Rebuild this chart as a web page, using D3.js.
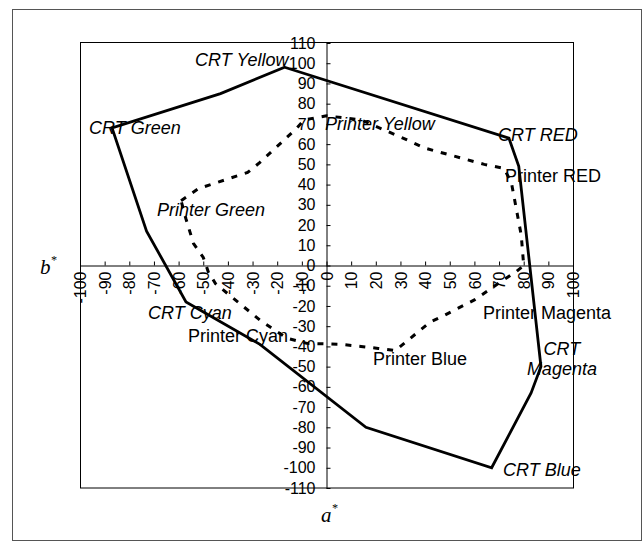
<!DOCTYPE html>
<html>
<head>
<meta charset="utf-8">
<script src="https://cdn.jsdelivr.net/npm/d3@7"></script>
<style>
  body { margin: 0; background: #fff; }
  svg { display: block; }
  .tick text { font-family: "Liberation Sans", Arial, sans-serif; font-size: 16px; fill: #000; }
  .lbl { font-family: "Liberation Sans", Arial, sans-serif; font-size: 18px; fill: #000; }
  .ttl { font-family: "Liberation Serif", "Times New Roman", serif; font-style: italic; font-size: 21px; }
</style>
</head>
<body>
<div id="chart"></div>
<script>
// gamut vertices, [a*, b*]
var crtGamut = [
  [-17, 98], [74, 63], [78, 49], [87, -50], [83, -63], [67, -100],
  [16, -80], [-27, -39], [-57, -18], [-73, 17], [-87, 68], [-43, 85]
];
var printerGamut = [
  [-59, 32], [-52, 38], [-32, 46], [-27, 51], [-19, 60], [-12, 68], [-9, 72],
  [0, 74], [14, 72], [31, 63], [40, 58], [64, 50], [72, 48], [75, 41],
  [79, 15], [80, 0], [77, -3], [72, -7], [60, -17], [48, -24.5], [42, -28],
  [36, -34], [30, -40], [28, -42], [21, -41], [14, -40], [6, -39], [-8, -38.5],
  [-16, -36], [-27, -27], [-40, -14], [-45, -9], [-48, -3], [-50, 4],
  [-54, 11], [-57, 23]
];
var aTicks = d3.range(-100, 101, 10);
var bTicks = d3.range(-110, 111, 10);

// annotation text and where it sits (a*, b*)
var labelText = ["CRT Yellow", "CRT Green", "Printer Green", "Printer Yellow", "CRT RED",
  "Printer RED", "CRT Cyan", "Printer Cyan", "Printer Magenta", "Printer Blue", "CRT Blue"];
var labelAt = [[-53.3, 98.6], [-96.3, 65], [-68.8, 24.5], [-0.6, 67], [69.6, 61.5],
  [72.4, 41.3], [-72.4, -26.4], [-56.2, -37.8], [63.5, -26.4], [18.9, -49.2], [71.6, -104]];
var labelItalic = [true, true, true, true, true, false, true, false, false, false, true];

var W = 644, H = 543;
var svg = d3.select('#chart').append('svg').attr('width', W).attr('height', H);

// outer frame
svg.append('rect').attr('x', 12.5).attr('y', 9.5).attr('width', 629).attr('height', 531)
  .attr('fill', 'none').attr('stroke', '#555').attr('stroke-width', 1);

var x = d3.scaleLinear().domain([-100, 100]).range([80, 573]);
var y = d3.scaleLinear().domain([-110, 110]).range([488, 43]);

// plot border
svg.append('rect').attr('x', 80.5).attr('y', 42.5).attr('width', 493).attr('height', 445.5)
  .attr('fill', 'none').attr('stroke', '#000').attr('stroke-width', 1);

var plain = function (d) { return String(d); }; // hyphen minus like the original

// x axis (a*) through b*=0
var xAxis = svg.append('g').attr('transform', 'translate(0,' + y(0) + ')')
  .call(d3.axisBottom(x).tickValues(aTicks).tickFormat(plain)
    .tickSizeInner(-4).tickSizeOuter(0));
xAxis.selectAll('.tick text')
  .attr('transform', 'rotate(-90)')
  .attr('x', -6).attr('y', 0).attr('dy', '0.35em')
  .style('text-anchor', 'end');

// y axis (b*) through a*=0
var yAxis = svg.append('g').attr('transform', 'translate(' + x(0) + ',0)')
  .call(d3.axisLeft(y).tickValues(bTicks).tickFormat(plain)
    .tickSizeInner(-4).tickSizeOuter(0).tickPadding(11));

svg.selectAll('.domain, .tick line').attr('stroke', '#000').attr('stroke-width', 1);

var line = d3.line().x(function (d) { return x(d[0]); }).y(function (d) { return y(d[1]); })
  .curve(d3.curveLinearClosed);

svg.append('path').datum(printerGamut).attr('d', line)
  .attr('fill', 'none').attr('stroke', '#000').attr('stroke-width', 3)
  .attr('stroke-dasharray', '6,8');

svg.append('path').datum(crtGamut).attr('d', line)
  .attr('fill', 'none').attr('stroke', '#000').attr('stroke-width', 2.8)
  .attr('stroke-linejoin', 'miter');

// labels
svg.selectAll('.lbl.pt').data(labelText).enter().append('text')
  .attr('class', 'lbl pt')
  .attr('x', function (d, i) { return x(labelAt[i][0]); })
  .attr('y', function (d, i) { return y(labelAt[i][1]); })
  .style('font-style', function (d, i) { return labelItalic[i] ? 'italic' : 'normal'; })
  .text(function (d) { return d; });

// CRT Magenta sits on two lines
var mag = svg.append('text').attr('class', 'lbl').style('font-style', 'italic')
  .attr('text-anchor', 'middle')
  .attr('x', x(95.5)).attr('y', y(-44.2));
mag.append('tspan').attr('x', x(95.5)).text('CRT');
mag.append('tspan').attr('x', x(95.5)).attr('dy', 20).text('Magenta');

// axis titles
var bt = svg.append('text').attr('class', 'ttl').attr('x', 40).attr('y', 274).text('b');
bt.append('tspan').attr('dy', -10).style('font-size', '12px').text('*');
var at = svg.append('text').attr('class', 'ttl').attr('x', 321).attr('y', 522).text('a');
at.append('tspan').attr('dy', -10).style('font-size', '12px').text('*');
</script>
</body>
</html>
